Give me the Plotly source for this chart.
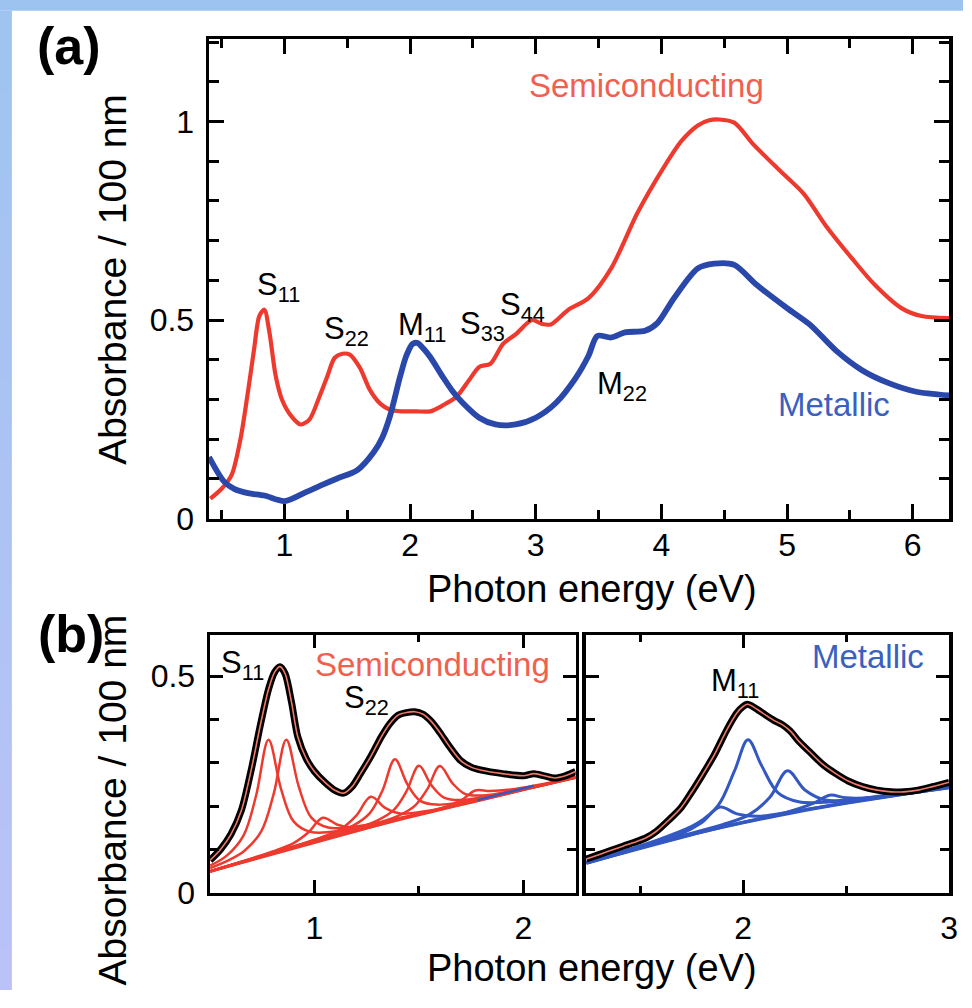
import plotly.graph_objects as go

W, H = 972, 1008

# ---------------- data: panel (a) ----------------
a_semi_x = [0.41, 0.5, 0.58, 0.65, 0.71, 0.76, 0.8, 0.84, 0.88, 0.93, 0.98, 1.05, 1.13, 1.2, 1.27, 1.34,
            1.4, 1.46, 1.52, 1.6, 1.68, 1.76, 1.84, 1.94, 2.05, 2.16, 2.26, 2.37, 2.47, 2.55, 2.64, 2.74,
            2.84, 2.97, 3.05, 3.12, 3.26, 3.42, 3.6, 3.81, 4.02, 4.16, 4.29, 4.38, 4.46, 4.58, 4.73, 4.94,
            5.13, 5.31, 5.52, 5.7, 5.91, 6.07, 6.29]
a_semi_y = [0.05, 0.075, 0.11, 0.2, 0.32, 0.43, 0.51, 0.526, 0.47, 0.36, 0.3, 0.26, 0.237, 0.25, 0.3, 0.357,
            0.405, 0.415, 0.413, 0.38, 0.324, 0.29, 0.274, 0.27, 0.27, 0.27, 0.285, 0.307, 0.349, 0.382, 0.39, 0.44,
            0.464, 0.5, 0.49, 0.489, 0.526, 0.555, 0.63, 0.77, 0.885, 0.951, 0.99, 1.003, 1.005, 0.997, 0.943, 0.877,
            0.819, 0.737, 0.654, 0.588, 0.53, 0.51, 0.505]

a_metal_x = [0.4, 0.52, 0.6, 0.71, 0.84, 1.0, 1.18, 1.3, 1.42, 1.58, 1.71, 1.78, 1.84, 1.92, 1.97, 2.02,
             2.06, 2.1, 2.16, 2.26, 2.34, 2.42, 2.55, 2.68, 2.84, 3.0, 3.16, 3.32, 3.42, 3.49, 3.6, 3.71,
             3.87, 3.97, 4.1, 4.29, 4.42, 4.58, 4.76, 5.0, 5.18, 5.39, 5.6, 5.81, 6.02, 6.29]
a_metal_y = [0.155, 0.093, 0.075, 0.064, 0.058, 0.044, 0.068, 0.085, 0.101, 0.122, 0.167, 0.205, 0.258, 0.357, 0.41, 0.44,
             0.442, 0.43, 0.407, 0.357, 0.32, 0.291, 0.254, 0.237, 0.237, 0.254, 0.291, 0.355, 0.41, 0.46, 0.456, 0.469,
             0.473, 0.493, 0.555, 0.63, 0.642, 0.639, 0.588, 0.53, 0.489, 0.423, 0.373, 0.341, 0.32, 0.31]

# ---------------- data: panel (b), semiconducting ----------------
bs_data_x = [0.5, 0.55, 0.6, 0.65, 0.7, 0.74, 0.78, 0.81, 0.835, 0.86, 0.89, 0.92, 0.96, 1.0, 1.05, 1.1,
             1.14, 1.18, 1.22, 1.27, 1.32, 1.36, 1.4, 1.44, 1.48, 1.52, 1.56, 1.6, 1.65, 1.7, 1.75, 1.8,
             1.9, 2.0, 2.05, 2.1, 2.15, 2.2, 2.25]
bs_data_y = [0.075, 0.1, 0.135, 0.19, 0.29, 0.385, 0.47, 0.51, 0.522, 0.505, 0.44, 0.36, 0.31, 0.28, 0.255, 0.236,
             0.23, 0.245, 0.275, 0.315, 0.36, 0.39, 0.41, 0.416, 0.418, 0.412, 0.395, 0.37, 0.335, 0.305, 0.29, 0.283,
             0.275, 0.27, 0.275, 0.27, 0.265, 0.27, 0.28]

bs_base_x = [0.5, 0.75, 1.0, 1.25, 1.5, 1.75, 2.0, 2.25]
bs_base_y = [0.049, 0.085, 0.118, 0.15, 0.18, 0.209, 0.238, 0.266]

bs_p1_x = [0.5, 0.58, 0.66, 0.72, 0.78, 0.84, 0.9, 0.98, 1.13, 1.4, 1.8, 2.25]
bs_p1_y = [0.0625, 0.0857, 0.1319, 0.2233, 0.353, 0.2395, 0.1647, 0.1406, 0.1434, 0.1709, 0.2159, 0.2665]
bs_p2_x = [0.5, 0.6, 0.665, 0.745, 0.805, 0.865, 0.925, 0.985, 1.065, 1.215, 1.5, 1.9, 2.25]
bs_p2_y = [0.0568, 0.0778, 0.097, 0.1417, 0.2289, 0.3532, 0.2447, 0.1734, 0.1505, 0.1539, 0.1826, 0.2274, 0.2666]
bs_p3_x = [0.5, 0.8, 0.9, 0.97, 1.04, 1.11, 1.18, 1.3, 1.6, 2.25]
bs_p3_y = [0.0498, 0.0955, 0.1148, 0.1391, 0.1731, 0.1571, 0.151, 0.1598, 0.1924, 0.2662]
bs_p4_x = [0.5, 0.9, 1.03, 1.13, 1.2, 1.27, 1.34, 1.41, 1.53, 1.8, 2.25]
bs_p4_y = [0.0496, 0.1072, 0.1272, 0.1484, 0.1781, 0.2214, 0.1953, 0.183, 0.1882, 0.216, 0.2664]
bs_p5_x = [0.5, 1.0, 1.185, 1.265, 1.325, 1.385, 1.445, 1.505, 1.585, 1.8, 2.25]
bs_p5_y = [0.0498, 0.1219, 0.1553, 0.184, 0.2357, 0.3082, 0.2501, 0.2128, 0.2035, 0.2182, 0.2668]
bs_p6_x = [0.5, 1.1, 1.3, 1.38, 1.44, 1.5, 1.56, 1.62, 1.7, 1.9, 2.25]
bs_p6_y = [0.0495, 0.1337, 0.1668, 0.1913, 0.2338, 0.293, 0.248, 0.2196, 0.214, 0.2293, 0.2668]
bs_p7_x = [0.5, 1.2, 1.4, 1.48, 1.54, 1.6, 1.66, 1.72, 1.8, 2.0, 2.25]
bs_p7_y = [0.0494, 0.1462, 0.1776, 0.2005, 0.2391, 0.2926, 0.2531, 0.2284, 0.2244, 0.2406, 0.267]
bs_p8_x = [0.5, 1.4, 1.6, 1.7, 1.77, 1.84, 1.94, 2.25]
bs_p8_y = [0.0491, 0.1687, 0.1944, 0.2127, 0.2361, 0.2347, 0.2385, 0.2664]

bs_blue_x = [1.78, 1.9, 2.05]
bs_blue_y = [0.214, 0.229, 0.247]

# ---------------- data: panel (b), metallic ----------------
bm_data_x = [1.24, 1.3, 1.36, 1.42, 1.47, 1.53, 1.58, 1.64, 1.7, 1.75, 1.8, 1.86, 1.92, 1.97, 2.0, 2.02,
             2.04, 2.07, 2.11, 2.15, 2.19, 2.23, 2.27, 2.33, 2.39, 2.45, 2.51, 2.58, 2.65, 2.72, 2.78, 2.85,
             2.92, 3.0]
bm_data_y = [0.078, 0.088, 0.098, 0.108, 0.116, 0.127, 0.142, 0.168, 0.197, 0.232, 0.27, 0.318, 0.375, 0.415, 0.43, 0.435,
             0.432, 0.423, 0.41, 0.398, 0.388, 0.373, 0.35, 0.322, 0.295, 0.275, 0.258, 0.245, 0.237, 0.233, 0.233, 0.237,
             0.245, 0.255]

bm_base_x = [1.24, 1.5, 1.75, 2.0, 2.25, 2.5, 2.75, 3.0]
bm_base_y = [0.0686, 0.104, 0.135, 0.162, 0.186, 0.207, 0.226, 0.243]

bm_p1_x = [1.24, 1.55, 1.7, 1.8, 1.888, 1.97, 2.07, 2.25, 2.6, 3.0]
bm_p1_y = [0.0693, 0.1127, 0.1362, 0.1621, 0.1979, 0.1822, 0.1765, 0.1882, 0.2152, 0.2432]
bm_p2_x = [1.24, 1.6, 1.78, 1.88, 1.96, 2.024, 2.09, 2.17, 2.27, 2.45, 2.7, 3.0]
bm_p2_y = [0.0711, 0.1245, 0.1608, 0.2021, 0.2832, 0.3533, 0.2935, 0.2304, 0.21, 0.2109, 0.2255, 0.2446]
bm_p3_x = [1.24, 1.7, 1.9, 2.03, 2.13, 2.216, 2.3, 2.4, 2.56, 2.8, 3.0]
bm_p3_y = [0.0693, 0.1311, 0.1572, 0.1803, 0.2204, 0.2817, 0.2373, 0.2143, 0.2167, 0.2312, 0.244]
bm_p4_x = [1.24, 1.9, 2.2, 2.34, 2.42, 2.5, 2.65, 3.0]
bm_p4_y = [0.0687, 0.1518, 0.1841, 0.2062, 0.2253, 0.2191, 0.2206, 0.2435]

# ---------------- styling ----------------
FONT = "Liberation Sans, Arial, Helvetica, sans-serif"
RED = "#ee3a2e"
RED_TXT = "#f0604f"
BLUE = "#2a47aa"
BLUE_B = "#3358c2"
BLUE_TXT = "#3a60c0"
FIT = "#f07a6a"


def px(x):
    return x / W


def py(y):
    return 1 - y / H


fig = go.Figure()


def line(x, y, ax, color, width, smoothing=1.0):
    xa, ya = ax
    fig.add_trace(go.Scatter(x=x, y=y, xaxis=xa, yaxis=ya, mode="lines",
                             line=dict(color=color, width=width, shape="spline", smoothing=smoothing),
                             hoverinfo="skip", showlegend=False))


A = ("x", "y")
BL = ("x2", "y2")
BR = ("x3", "y3")

# panel (a)
line(a_semi_x, a_semi_y, A, RED, 4.2, 0.8)
line(a_metal_x, a_metal_y, A, BLUE, 5.8, 0.8)

# panel (b) semiconducting
line(bs_base_x, bs_base_y, BL, RED, 3)
for cx, cy in [(bs_p1_x, bs_p1_y), (bs_p2_x, bs_p2_y), (bs_p3_x, bs_p3_y), (bs_p4_x, bs_p4_y),
               (bs_p5_x, bs_p5_y), (bs_p6_x, bs_p6_y), (bs_p7_x, bs_p7_y), (bs_p8_x, bs_p8_y)]:
    line(cx, cy, BL, RED, 2.5)
line(bs_blue_x, bs_blue_y, BL, BLUE_B, 2.4)
line(bs_data_x, bs_data_y, BL, "black", 7, 0.8)
line(bs_data_x, bs_data_y, BL, FIT, 1.6, 0.8)

# panel (b) metallic
line(bm_base_x, bm_base_y, BR, BLUE_B, 3.6)
for cx, cy in [(bm_p1_x, bm_p1_y), (bm_p2_x, bm_p2_y), (bm_p3_x, bm_p3_y), (bm_p4_x, bm_p4_y)]:
    line(cx, cy, BR, BLUE_B, 3)
line(bm_data_x, bm_data_y, BR, "black", 7, 0.8)
line(bm_data_x, bm_data_y, BR, FIT, 1.6, 0.8)

TICKFONT = dict(family=FONT, size=32, color="black")


def axis(**kw):
    d = dict(showline=True, linecolor="black", linewidth=3.5, mirror="ticks", ticks="inside",
             tickcolor="black", tickwidth=3, showgrid=False, zeroline=False, tickfont=TICKFONT,
             fixedrange=True, tickmode="linear")
    d.update(kw)
    return d


def minor(dt, ln):
    return dict(dtick=dt, tick0=0, ticklen=ln, tickwidth=3, ticks="inside", tickcolor="black", showgrid=False)


layout = dict(
    width=W, height=H, margin=dict(l=0, r=0, t=0, b=0),
    paper_bgcolor="white", plot_bgcolor="white", showlegend=False,
    xaxis=axis(domain=[px(211), px(958)], range=[0.4, 6.29], anchor="y", tick0=0, dtick=1,
               ticklen=15, minor=minor(0.5, 9), ticklabelstandoff=-4),
    yaxis=axis(domain=[py(528), py(40)], range=[0, 1.207], anchor="x", tick0=0, dtick=0.5,
               ticklen=15, minor=minor(0.1, 10), ticklabelstandoff=5),
    xaxis2=axis(domain=[px(212), px(581)], range=[0.5, 2.25], anchor="y2", tick0=0, dtick=1,
                ticklen=13, minor=minor(0.5, 7), ticklabelstandoff=4),
    yaxis2=axis(domain=[py(909), py(647)], range=[0, 0.594], anchor="x2", tick0=0, dtick=0.5,
                ticklen=13, minor=minor(0.1, 9), ticklabelstandoff=5),
    xaxis3=axis(domain=[px(591), px(958)], range=[1.2356, 3.0], anchor="y3", tick0=0, dtick=1,
                ticklen=13, minor=minor(0.5, 7), ticklabelstandoff=4),
    yaxis3=axis(domain=[py(909), py(647)], range=[0, 0.594], anchor="x3", tick0=0, dtick=0.5,
                ticklen=13, minor=minor(0.1, 9), showticklabels=False),
)

annotations = []


def note(text, x, y, size=30, color="black", angle=0, bold=False):
    if bold:
        text = "<b>" + text + "</b>"
    annotations.append(dict(text=text, x=px(x), y=py(y), xref="paper", yref="paper", showarrow=False,
                            xanchor="center", yanchor="middle", textangle=angle,
                            font=dict(family=FONT, size=size, color=color)))


note("(a)", 70, 47, 52, bold=True)
note("(b)", 72, 646, 52, bold=True)
note("Absorbance / 100 nm", 114, 284, 39, angle=-90)
note("Absorbance / 100 nm", 114, 814, 39, angle=-90)
note("Photon energy (eV)", 598, 600, 38)
note("Photon energy (eV)", 598, 986, 38)

note("Semiconducting", 653, 87, 33, RED_TXT)
note("Metallic", 842, 412, 33, BLUE_TXT)
note("S<sub>11</sub>", 281, 292, 31)
note("S<sub>22</sub>", 350, 337, 31)
note("M<sub>11</sub>", 426, 333, 31)
note("S<sub>33</sub>", 487, 332, 31)
note("S<sub>44</sub>", 527, 313, 31)
note("M<sub>22</sub>", 628, 393, 31)

note("S<sub>11</sub>", 245, 677, 31)
note("Semiconducting", 437, 677, 33, RED_TXT)
note("S<sub>22</sub>", 370, 713, 31)
note("M<sub>11</sub>", 742, 695, 31)
note("Metallic", 876, 668, 33, BLUE_TXT)

layout["annotations"] = annotations

# blue page border strips
shapes = [dict(type="rect", xref="paper", yref="paper", x0=0, x1=1, y0=py(11), y1=1,
               fillcolor="#9dc4f0", line=dict(width=0), layer="above")]
n = 24
c0 = (158, 196, 240)
c1 = (187, 194, 248)
for i in range(n):
    t = (i + 0.5) / n
    c = tuple(int(round(c0[k] + (c1[k] - c0[k]) * t)) for k in range(3))
    y0 = 11 + (H - 11) * i / n
    y1 = 11 + (H - 11) * (i + 1) / n + 1
    shapes.append(dict(type="rect", xref="paper", yref="paper", x0=0, x1=px(12), y0=py(min(y1, H)), y1=py(y0),
                       fillcolor="rgb(%d,%d,%d)" % c, line=dict(width=0), layer="above"))
layout["shapes"] = shapes

fig.update_layout(**layout)
fig.write_html("out.html", config={"displayModeBar": False, "staticPlot": True},
               post_script="document.body.style.margin='0';document.body.style.overflow='hidden';")
